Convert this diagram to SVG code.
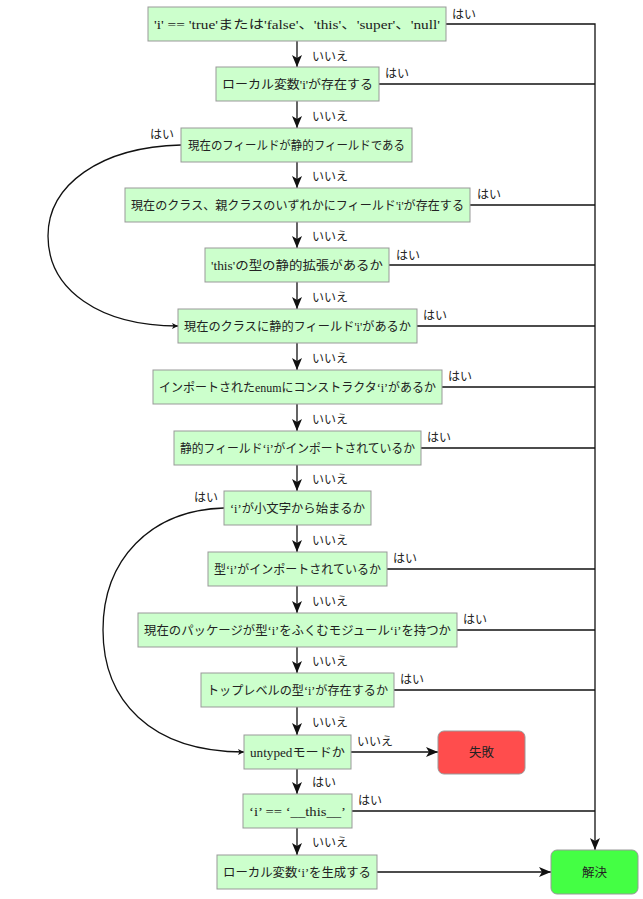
<svg xmlns="http://www.w3.org/2000/svg" width="643" height="899" viewBox="0 0 643 899">
<defs>
<style>
.n{fill:#ccffcc;stroke:#999999;stroke-width:1}
.t{font-family:"Liberation Serif","Noto Sans CJK JP",serif;font-size:12.5px;fill:#222;text-anchor:middle}
.l{font-family:"Noto Sans CJK JP","Liberation Sans",sans-serif;font-size:12px;fill:#222}
.c{fill:none;stroke:#111;stroke-width:1.3}
</style>
<marker id="a" viewBox="0 0 12 10" refX="12" refY="5" markerWidth="12" markerHeight="10" markerUnits="userSpaceOnUse" orient="auto">
<path d="M0,0 L12,5 L0,10 L3,5 z" fill="#111"/>
</marker>
<marker id="s" viewBox="0 0 6 6" refX="6" refY="3" markerWidth="6" markerHeight="6" markerUnits="userSpaceOnUse" orient="auto">
<path d="M0,0 L6,3 L0,6 L1.5,3 z" fill="#111"/>
</marker>
</defs>
<rect width="643" height="899" fill="#ffffff"/>
<g id="connectors">
<path class="c" d="M297,41 V67" marker-end="url(#a)"/>
<path class="c" d="M297,101 V128" marker-end="url(#a)"/>
<path class="c" d="M297,162 V188" marker-end="url(#a)"/>
<path class="c" d="M297,222 V248" marker-end="url(#a)"/>
<path class="c" d="M297,282 V309" marker-end="url(#a)"/>
<path class="c" d="M297,343 V370" marker-end="url(#a)"/>
<path class="c" d="M297,404 V431" marker-end="url(#a)"/>
<path class="c" d="M297,465 V491" marker-end="url(#a)"/>
<path class="c" d="M297,525 V552" marker-end="url(#a)"/>
<path class="c" d="M297,586 V613" marker-end="url(#a)"/>
<path class="c" d="M297,647 V673" marker-end="url(#a)"/>
<path class="c" d="M297,707 V735" marker-end="url(#a)"/>
<path class="c" d="M297,769 V794" marker-end="url(#a)"/>
<path class="c" d="M297,828 V855" marker-end="url(#a)"/>
<path class="c" d="M446,24 H595 V850" marker-end="url(#a)"/>
<path class="c" d="M379,84 H595"/>
<path class="c" d="M470,205 H595"/>
<path class="c" d="M389,265 H595"/>
<path class="c" d="M417,326 H595"/>
<path class="c" d="M442,387 H595"/>
<path class="c" d="M421,448 H595"/>
<path class="c" d="M387,569 H595"/>
<path class="c" d="M457,630 H595"/>
<path class="c" d="M394,690 H595"/>
<path class="c" d="M352,811 H595"/>
<path class="c" d="M377,872 H551" marker-end="url(#a)"/>
<path class="c" d="M351,752 H438" marker-end="url(#a)"/>
<path class="c" d="M181,145 C100,147 48,185 48,236 C48,290 100,326 178,326" marker-end="url(#s)"/>
<path class="c" d="M224,508 C150,510 103,560 103,630 C103,700 150,752 244,752" marker-end="url(#s)"/>
<text class="l" x="452" y="19">はい</text>
<text class="l" x="385" y="78">はい</text>
<text class="l" x="150" y="139">はい</text>
<text class="l" x="477" y="199">はい</text>
<text class="l" x="396" y="260">はい</text>
<text class="l" x="423" y="320">はい</text>
<text class="l" x="448" y="381">はい</text>
<text class="l" x="427" y="442">はい</text>
<text class="l" x="194" y="502">はい</text>
<text class="l" x="393" y="563">はい</text>
<text class="l" x="463" y="624">はい</text>
<text class="l" x="400" y="684">はい</text>
<text class="l" x="357" y="746">いいえ</text>
<text class="l" x="312" y="787">はい</text>
<text class="l" x="358" y="805">はい</text>
<text class="l" x="312" y="61">いいえ</text>
<text class="l" x="312" y="121">いいえ</text>
<text class="l" x="312" y="181">いいえ</text>
<text class="l" x="312" y="241">いいえ</text>
<text class="l" x="312" y="302">いいえ</text>
<text class="l" x="312" y="363">いいえ</text>
<text class="l" x="312" y="424">いいえ</text>
<text class="l" x="312" y="484">いいえ</text>
<text class="l" x="312" y="545">いいえ</text>
<text class="l" x="312" y="606">いいえ</text>
<text class="l" x="312" y="666">いいえ</text>
<text class="l" x="312" y="727">いいえ</text>
<text class="l" x="312" y="847">いいえ</text>
</g>
<g id="n1"><rect class="n" x="148" y="7" width="298" height="34"/><text class="t" x="297" y="28.5" textLength="286" lengthAdjust="spacingAndGlyphs">'i' == 'true'または'false'、'this'、'super'、'null'</text></g>
<g id="n2"><rect class="n" x="216" y="67" width="163" height="34"/><text class="t" x="297.5" y="88.5" textLength="151" lengthAdjust="spacingAndGlyphs">ローカル変数'i'が存在する</text></g>
<g id="n3"><rect class="n" x="181" y="128" width="231" height="34"/><text class="t" x="296.5" y="149.5" textLength="217" lengthAdjust="spacingAndGlyphs">現在のフィールドが静的フィールドである</text></g>
<g id="n4"><rect class="n" x="125" y="188" width="345" height="34"/><text class="t" x="297.5" y="209.5" textLength="333" lengthAdjust="spacingAndGlyphs">現在のクラス、親クラスのいずれかにフィールド'i'が存在する</text></g>
<g id="n5"><rect class="n" x="205" y="248" width="184" height="34"/><text class="t" x="297" y="269.5" textLength="172" lengthAdjust="spacingAndGlyphs">'this'の型の静的拡張があるか</text></g>
<g id="n6"><rect class="n" x="178" y="309" width="239" height="34"/><text class="t" x="297.5" y="330.5" textLength="227" lengthAdjust="spacingAndGlyphs">現在のクラスに静的フィールド'i'があるか</text></g>
<g id="n7"><rect class="n" x="153" y="370" width="289" height="34"/><text class="t" x="297.5" y="391.5" textLength="277" lengthAdjust="spacingAndGlyphs">インポートされたenumにコンストラクタ‘i’があるか</text></g>
<g id="n8"><rect class="n" x="174" y="431" width="247" height="34"/><text class="t" x="297.5" y="452.5" textLength="235" lengthAdjust="spacingAndGlyphs">静的フィールド‘i’がインポートされているか</text></g>
<g id="n9"><rect class="n" x="224" y="491" width="147" height="34"/><text class="t" x="297.5" y="512.5" textLength="135" lengthAdjust="spacingAndGlyphs">‘i’が小文字から始まるか</text></g>
<g id="n10"><rect class="n" x="208" y="552" width="179" height="34"/><text class="t" x="297.5" y="573.5" textLength="167" lengthAdjust="spacingAndGlyphs">型‘i’がインポートされているか</text></g>
<g id="n11"><rect class="n" x="138" y="613" width="319" height="34"/><text class="t" x="297.5" y="634.5" textLength="307" lengthAdjust="spacingAndGlyphs">現在のパッケージが型‘i’をふくむモジュール‘i’を持つか</text></g>
<g id="n12"><rect class="n" x="201" y="673" width="193" height="34"/><text class="t" x="297.5" y="694.5" textLength="181" lengthAdjust="spacingAndGlyphs">トップレベルの型‘i’が存在するか</text></g>
<g id="n13"><rect class="n" x="244" y="735" width="107" height="34"/><text class="t" x="297.5" y="756.5" textLength="95" lengthAdjust="spacingAndGlyphs">untypedモードか</text></g>
<g id="fail"><rect x="438" y="731" width="87" height="43" rx="6" fill="#ff4d4d" stroke="#999999"/><text class="t" x="481.5" y="757">失敗</text></g>
<g id="n14"><rect class="n" x="243" y="794" width="109" height="34"/><text class="t" x="297.5" y="815.5" textLength="97" lengthAdjust="spacingAndGlyphs">‘i’ == ‘__this__’</text></g>
<g id="n15"><rect class="n" x="217" y="855" width="160" height="34"/><text class="t" x="297" y="876.5" textLength="148" lengthAdjust="spacingAndGlyphs">ローカル変数‘i’を生成する</text></g>
<g id="resolve"><rect x="551" y="850" width="87" height="44" rx="6" fill="#44ff44" stroke="#999999"/><text class="t" x="594.5" y="876.5">解決</text></g>
</svg>
